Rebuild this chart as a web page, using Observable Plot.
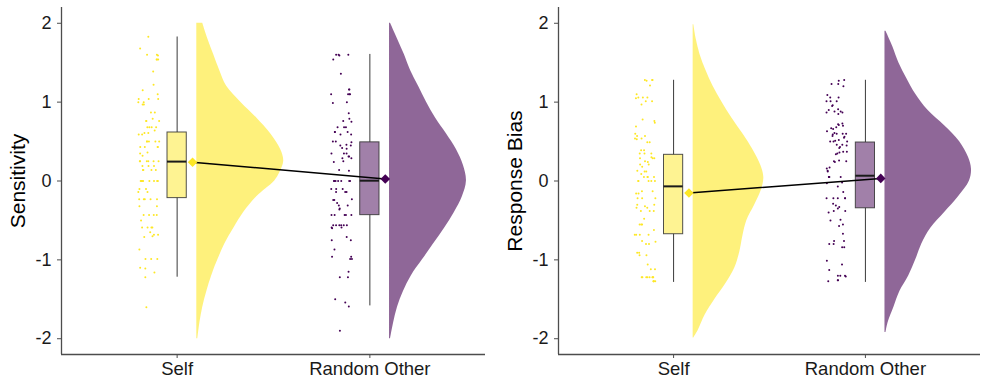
<!DOCTYPE html>
<html>
<head>
<meta charset="utf-8">
<script src="https://cdn.jsdelivr.net/npm/d3@7"></script>
<script src="https://cdn.jsdelivr.net/npm/@observablehq/plot@0.6"></script>
<style>
  body { margin: 0; background: #fff; }
  #wrap { display: flex; width: 981px; height: 380px; }
  #wrap svg { display: block; }
</style>
</head>
<body>
<div id="wrap"></div>
<script>
// ---------- data ----------
const conditions = ["Self", "Random Other"];
const conditionColors = ["#FDE725", "#440154"];
const yTicks = [-2, -1, 0, 1, 2];

// raw (jittered) observations
const sensitivitySelf = [1.83,1.68,1.60,1.60,1.59,1.54,1.54,1.54,1.39,1.22,1.15,1.10,1.04,1.04,1.04,1.00,1.00,0.97,0.97,0.87,0.87,0.79,0.76,0.76,0.76,0.68,0.68,0.68,0.68,0.64,0.61,0.61,0.59,0.59,0.50,0.50,0.50,0.50,0.50,0.43,0.43,0.43,0.43,0.36,0.35,0.32,0.25,0.25,0.25,0.25,0.25,0.25,0.19,0.19,0.19,0.14,0.14,0.14,0.14,0,0,0,0,0,0,0,0,-0.10,-0.10,-0.14,-0.14,-0.23,-0.23,-0.23,-0.23,-0.23,-0.32,-0.32,-0.43,-0.43,-0.43,-0.43,-0.50,-0.59,-0.59,-0.59,-0.59,-0.65,-0.68,-0.68,-0.70,-0.71,-0.87,-0.99,-0.99,-0.99,-1.10,-1.11,-1.16,-1.22,-1.60];
const sensitivityOther = [1.60,1.60,1.60,1.59,1.54,1.36,1.16,1.16,1.10,1.10,1.10,1.10,1.00,0.99,0.86,0.79,0.76,0.75,0.68,0.68,0.68,0.62,0.62,0.62,0.59,0.59,0.50,0.50,0.49,0.46,0.45,0.45,0.42,0.41,0.35,0.35,0.35,0.31,0.31,0.29,0.29,0.25,0.24,0.14,0.13,0,0,0,0,0,0,0,-0.10,-0.10,-0.10,-0.14,-0.14,-0.14,-0.23,-0.24,-0.24,-0.28,-0.31,-0.31,-0.35,-0.36,-0.43,-0.43,-0.43,-0.43,-0.43,-0.56,-0.56,-0.56,-0.56,-0.56,-0.56,-0.59,-0.59,-0.60,-0.71,-0.75,-0.75,-0.87,-0.96,-0.96,-0.99,-0.99,-1.15,-1.22,-1.22,-1.50,-1.54,-1.59,-1.90];
const biasSelf = [1.28,1.28,1.28,1.27,1.21,1.10,1.06,1.06,1.06,1.05,1.01,1.01,0.97,0.78,0.76,0.74,0.69,0.60,0.57,0.57,0.54,0.54,0.53,0.49,0.49,0.39,0.39,0.35,0.35,0.35,0.30,0.29,0.29,0.29,0.25,0.24,0.21,0.21,0.18,0.13,0.12,0.12,0.09,0.05,0.05,0.05,0.05,0,0,0,0,0,-0.13,-0.13,-0.16,-0.16,-0.22,-0.22,-0.22,-0.30,-0.30,-0.32,-0.34,-0.34,-0.38,-0.38,-0.38,-0.48,-0.55,-0.55,-0.55,-0.62,-0.68,-0.68,-0.68,-0.68,-0.76,-0.77,-0.80,-0.80,-0.91,-0.91,-0.94,-0.94,-1.06,-1.12,-1.12,-1.22,-1.22,-1.22,-1.22,-1.22,-1.22,-1.22,-1.22,-1.27,-1.27,-1.27,-1.27];
const biasOther = [1.28,1.27,1.23,1.23,1.20,1.09,1.06,1.06,1.01,1.01,1.01,0.96,0.95,0.91,0.90,0.88,0.88,0.87,0.87,0.85,0.73,0.72,0.71,0.70,0.68,0.67,0.66,0.63,0.61,0.60,0.60,0.60,0.59,0.57,0.56,0.55,0.52,0.51,0.50,0.50,0.50,0.46,0.46,0.45,0.43,0.42,0.37,0.37,0.36,0.35,0.34,0.26,0.25,0.25,0.24,0.17,0.16,0.13,0.12,0.05,0.05,0.05,0.05,-0.02,-0.03,-0.07,-0.14,-0.22,-0.22,-0.22,-0.22,-0.22,-0.29,-0.31,-0.33,-0.35,-0.38,-0.38,-0.40,-0.49,-0.50,-0.55,-0.57,-0.67,-0.76,-0.76,-0.80,-0.80,-0.84,-0.84,-1.01,-1.06,-1.13,-1.20,-1.20,-1.20,-1.21,-1.26,-1.26,-1.27];

// box-plot summaries [Self, Random Other]
const sensitivityQ1 = [-0.217, -0.433];
const sensitivityMedian = [0.246, 0.004];
const sensitivityQ3 = [0.615, 0.490];
const sensitivityWhiskerLow = [-1.22, -1.584];
const sensitivityWhiskerHigh = [1.826, 1.605];
const sensitivityMean = [0.238, 0.025];

const biasQ1 = [-0.675, -0.346];
const biasMedian = [-0.068, 0.067];
const biasQ3 = [0.332, 0.488];
const biasWhiskerLow = [-1.286, -1.286];
const biasWhiskerHigh = [1.277, 1.277];
const biasMean = [-0.152, 0.033];

// half-violin densities
const sensitivitySelfDensityAt = [2.0,1.8,1.6,1.4,1.2,1.0,0.8,0.6,0.4,0.25,0.1,0.0,-0.2,-0.4,-0.6,-0.8,-1.0,-1.2,-1.4,-1.6,-1.8,-2.0];
const sensitivitySelfDensity = [0.035,0.065,0.10,0.135,0.176,0.259,0.353,0.435,0.494,0.512,0.488,0.459,0.353,0.276,0.218,0.165,0.124,0.088,0.059,0.035,0.018,0.006];
const sensitivityOtherDensityAt = [2.0,1.8,1.6,1.4,1.2,1.0,0.8,0.6,0.4,0.2,0.0,-0.2,-0.4,-0.6,-0.8,-1.0,-1.2,-1.4,-1.6,-1.8,-2.0];
const sensitivityOtherDensity = [0.006,0.047,0.088,0.124,0.171,0.218,0.271,0.335,0.394,0.435,0.453,0.429,0.382,0.324,0.259,0.194,0.129,0.082,0.047,0.024,0.006];
const biasSelfDensityAt = [1.98,1.8,1.6,1.4,1.2,1.0,0.8,0.6,0.4,0.2,0.05,-0.1,-0.3,-0.5,-0.7,-0.9,-1.1,-1.3,-1.5,-1.7,-1.9,-1.99];
const biasSelfDensity = [0.004,0.018,0.041,0.076,0.118,0.171,0.229,0.294,0.353,0.40,0.418,0.406,0.365,0.318,0.294,0.276,0.247,0.194,0.129,0.071,0.029,0.004];
const biasOtherDensityAt = [1.9,1.7,1.5,1.3,1.1,0.9,0.7,0.5,0.3,0.15,0.0,-0.2,-0.4,-0.6,-0.8,-1.0,-1.2,-1.4,-1.6,-1.8,-1.92];
const biasOtherDensity = [0.006,0.047,0.082,0.129,0.182,0.253,0.353,0.441,0.494,0.512,0.50,0.435,0.353,0.271,0.218,0.182,0.141,0.088,0.053,0.018,0.006];

// ---------- drawing ----------
const FONT = "'Liberation Sans', Arial, Helvetica, sans-serif";
const AXIS_GREY = "#4d4d4d";

function panel(cfg) {
  const rng = d3.randomLcg(cfg.seed);
  const pts = [];
  cfg.points.forEach((arr, i) => arr.forEach(v => pts.push({cond: i + 1, v, j: (rng() - 0.5) * 0.11})));
  const stats = conditions.map((c, i) => ({
    cond: i + 1, q1: cfg.q1[i], med: cfg.med[i], q3: cfg.q3[i],
    lo: cfg.lo[i], hi: cfg.hi[i], mean: cfg.mean[i], color: conditionColors[i]
  }));
  const dens = cfg.densAt.map((ys, i) => ys.map((v, k) => ({cond: i + 1, v, d: cfg.dens[i][k]})));
  const violinOffset = 0.102, violinScale = 0.881, meanOffset = 0.08, boxHalf = 0.05, jitterOffset = -0.148;

  const marks = [];
  dens.forEach((rows, i) => marks.push(Plot.areaX(rows, {
    y: "v", x1: d => d.cond + violinOffset, x2: d => d.cond + violinOffset + d.d * violinScale,
    fill: conditionColors[i], fillOpacity: 0.6, curve: "catmull-rom"
  })));
  marks.push(Plot.dot(pts, {
    x: d => d.cond + jitterOffset + d.j, y: "v", r: 1,
    fill: d => conditionColors[d.cond - 1], stroke: "none"
  }));
  marks.push(Plot.ruleX(stats, {x: "cond", y1: "q3", y2: "hi", stroke: "#3a3a3a", strokeWidth: 1}));
  marks.push(Plot.ruleX(stats, {x: "cond", y1: "lo", y2: "q1", stroke: "#3a3a3a", strokeWidth: 1}));
  marks.push(Plot.rect(stats, {
    x1: d => d.cond - boxHalf, x2: d => d.cond + boxHalf, y1: "q1", y2: "q3",
    fill: "color", fillOpacity: 0.5, stroke: "#333", strokeOpacity: 0.85, strokeWidth: 1
  }));
  marks.push(Plot.ruleY(stats, {
    y: "med", x1: d => d.cond - boxHalf, x2: d => d.cond + boxHalf, stroke: "#1a1a1a", strokeWidth: 2
  }));
  marks.push(Plot.line(stats, {x: d => d.cond + meanOffset, y: "mean", stroke: "#000", strokeWidth: 1.5}));
  marks.push(Plot.dot(stats, {
    x: d => d.cond + meanOffset, y: "mean", symbol: "diamond2", r: 4.3, fill: "color", stroke: "none"
  }));
  // axis lines (classic theme)
  marks.push(Plot.ruleX([0.4], {y1: -2.2, y2: 2.2, stroke: AXIS_GREY, strokeWidth: 1.3}));
  marks.push(Plot.ruleY([-2.2], {x1: 0.4, x2: 2.6, stroke: AXIS_GREY, strokeWidth: 1.3}));
  marks.push(Plot.axisY({ticks: yTicks, tickFormat: d => String(d), tickSize: 4, tickPadding: 6,
    fontSize: 18, stroke: AXIS_GREY, fill: "#1a1a1a", label: null}));
  marks.push(Plot.axisX({ticks: [1, 2], tickFormat: d => conditions[d - 1], tickSize: 4, tickPadding: 3,
    fontSize: 18.5, stroke: AXIS_GREY, fill: "#1a1a1a", label: null}));
  marks.push(Plot.text([cfg.title], {
    text: d => d, frameAnchor: "left", textAnchor: "middle", lineAnchor: "middle",
    rotate: -90, dx: -43, fontSize: 21, fill: "#000"
  }));

  return Plot.plot({
    width: cfg.width, height: 380,
    marginLeft: cfg.marginLeft, marginRight: cfg.marginRight, marginTop: 7, marginBottom: 26,
    style: {fontFamily: FONT, background: "#fff", overflow: "visible"},
    x: {type: "linear", domain: [0.4, 2.6]},
    y: {domain: [-2.2, 2.2]},
    marks
  });
}

const wrap = document.getElementById("wrap");
wrap.append(panel({
  title: "Sensitivity", seed: 0.17, width: 490, marginLeft: 61, marginRight: 5,
  points: [sensitivitySelf, sensitivityOther],
  q1: sensitivityQ1, med: sensitivityMedian, q3: sensitivityQ3,
  lo: sensitivityWhiskerLow, hi: sensitivityWhiskerHigh, mean: sensitivityMean,
  densAt: [sensitivitySelfDensityAt, sensitivityOtherDensityAt],
  dens: [sensitivitySelfDensity, sensitivityOtherDensity]
}));
wrap.append(panel({
  title: "Response Bias", seed: 0.53, width: 491, marginLeft: 68, marginRight: 1,
  points: [biasSelf, biasOther],
  q1: biasQ1, med: biasMedian, q3: biasQ3,
  lo: biasWhiskerLow, hi: biasWhiskerHigh, mean: biasMean,
  densAt: [biasSelfDensityAt, biasOtherDensityAt],
  dens: [biasSelfDensity, biasOtherDensity]
}));
</script>
</body>
</html>
